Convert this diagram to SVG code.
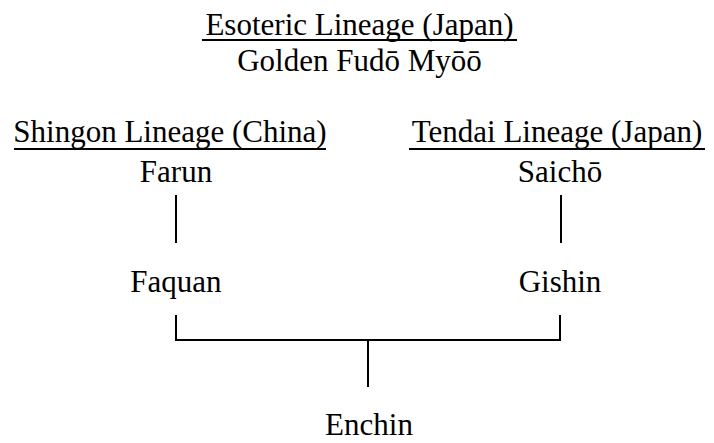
<svg xmlns="http://www.w3.org/2000/svg" width="714" height="443" viewBox="0 0 714 443">
<style>
text{font-family:"Liberation Serif","Times New Roman",serif;font-size:31px;fill:#000;text-anchor:middle}
.ul{stroke:#000;stroke-width:2}
.c{stroke:#000;stroke-width:2;fill:none}
</style>
<rect width="714" height="443" fill="#fff"/>
<g id="esoteric">
<text x="359.5" y="35">Esoteric Lineage (Japan)</text>
<line class="ul" x1="202" y1="40" x2="517" y2="40"/>
<text x="359.5" y="71">Golden Fudō Myōō</text>
</g>
<g id="shingon">
<text x="170" y="142">Shingon Lineage (China)</text>
<line class="ul" x1="14" y1="149" x2="326" y2="149"/>
</g>
<g id="tendai">
<text x="557" y="142">Tendai Lineage (Japan)</text>
<line class="ul" x1="409" y1="149" x2="705" y2="149"/>
</g>
<g id="farun"><text x="176" y="182">Farun</text></g>
<g id="saicho"><text x="560" y="182">Saichō</text></g>
<g id="faquan"><text x="176" y="292">Faquan</text></g>
<g id="gishin"><text x="560" y="292">Gishin</text></g>
<g id="enchin"><text x="369" y="435">Enchin</text></g>
<g id="connectors">
<line class="c" x1="176" y1="195" x2="176" y2="243"/>
<line class="c" x1="561" y1="195" x2="561" y2="243"/>
<polyline class="c" points="176,315 176,340 560,340 560,315"/>
<line class="c" x1="368" y1="340" x2="368" y2="387"/>
</g>
</svg>
